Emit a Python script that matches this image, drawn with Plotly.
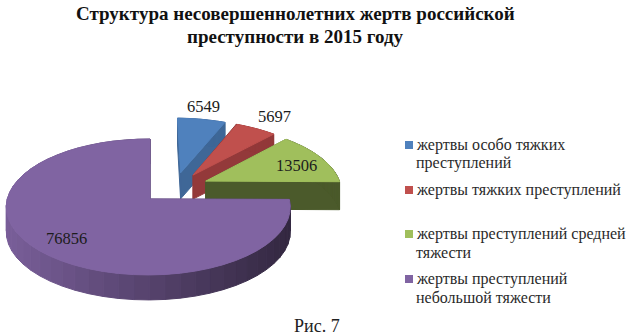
import math
import plotly.graph_objects as go

categories = ["жертвы особо тяжких<br>преступлений", "жертвы тяжких преступлений",
              "жертвы преступлений средней<br>тяжести", "жертвы преступлений<br>небольшой тяжести"]
values = [6549, 5697, 13506, 76856]
title_text = "Структура несовершеннолетних жертв российской<br>преступности в 2015 году"
caption = "Рис. 7"
top_colors = ["#4f81bd", "#c0504d", "#a0bf5c", "#8064a2"]
side_colors = ["#3f6797", "#93393a", "#4b5a2b", "#4a3a62"]
FONT = "Liberation Serif"

# projection of the pie plane on the page
CX, CY, R, K, P, Q = 150, 199, 141, 67, 0.1176, 0.012
# slice explosion in disc units: (right, toward viewer)
explode = [(0.228, -0.41), (0.32, -0.374), (0.41, -0.277), (0, 0)]
radii = [1.0, 1.0, 1.0, 1.0]
depths = [26, 24, 28, 25]
label_pos = [(203, 106), (274, 116), (296, 165), (66, 238)]
legend_y = [145, 190, 234, 279]
title_y = [13, 36]
LEG_X, LEG_TEXT_X, LEG_LINE = 409, 414, 18


def project(u, v, h=0):
    w = 1 - P * v + Q * u
    return CX + R * u / w, CY + K * v / w + h


def arc(a0, a1, r, ox, oy, h=0, n=48):
    pts = []
    for i in range(n + 1):
        a = math.radians(a0 + (a1 - a0) * i / n)
        pts.append(project(ox + r * math.sin(a), oy - r * math.cos(a), h))
    return pts


def poly(pts, color):
    xs = [p[0] for p in pts] + [pts[0][0]]
    ys = [p[1] for p in pts] + [pts[0][1]]
    return go.Scatter(x=xs, y=ys, mode="lines", fill="toself", fillcolor=color,
                      line=dict(color=color, width=1), hoverinfo="skip", showlegend=False)


def shade(base, t):
    base = base.lstrip("#")
    r, g, b = [int(base[i:i + 2], 16) for i in (0, 2, 4)]
    return "rgb(%d,%d,%d)" % (r * t, g * t, b * t)


fig = go.Figure()
total = sum(values)
start = 0
for i, val in enumerate(values):
    end = start + 360 * val / total
    ox, oy = explode[i]
    r = radii[i]
    h = depths[i]
    apex = project(ox, oy)
    apex_low = project(ox, oy, h)
    outer = arc(start, end, r, ox, oy)
    outer_low = arc(start, end, r, ox, oy, h)
    fig.add_trace(poly([apex, outer[0], outer_low[0], apex_low], side_colors[i]))
    fig.add_trace(poly([apex, outer[-1], outer_low[-1], apex_low], side_colors[i]))
    for j in range(len(outer) - 1):
        xm = (outer[j][0] + outer[j + 1][0]) / 2
        if i == 3:
            col = shade(top_colors[i], 0.95 - 0.55 * (xm - 6) / 284)
        else:
            col = side_colors[i]
        fig.add_trace(poly([outer[j], outer[j + 1], outer_low[j + 1], outer_low[j]], col))
    fig.add_trace(poly([apex] + outer, top_colors[i]))
    start = end

fig.add_trace(go.Scatter(x=[LEG_X] * len(legend_y), y=legend_y, mode="markers", showlegend=False,
                         hoverinfo="skip",
                         marker=dict(symbol="square", size=8, color=top_colors)))
for name, y in zip(categories, legend_y):
    for k, line in enumerate(name.split("<br>")):
        fig.add_annotation(x=LEG_TEXT_X, y=y + k * LEG_LINE, text=line, showarrow=False,
                           xanchor="left", xref="x", yref="y",
                           font=dict(family=FONT, size=16, color="#2a2a2a"))

for val, (x, y) in zip(values, label_pos):
    fig.add_annotation(x=x, y=y, text=str(val), showarrow=False, xref="x", yref="y",
                       font=dict(family=FONT, size=16.5, color="#1c1c1c"))

for line, y in zip(title_text.split("<br>"), title_y):
    fig.add_annotation(x=295, y=y, text="<b>" + line + "</b>", showarrow=False, xref="x", yref="y",
                       font=dict(family=FONT, size=19, color="#111111"))

fig.add_annotation(x=317, y=326, text=caption, showarrow=False, xref="x", yref="y",
                   font=dict(family=FONT, size=18, color="#222222"))

fig.update_layout(
    width=633, height=335, margin=dict(l=0, r=0, t=0, b=0),
    paper_bgcolor="white", plot_bgcolor="white", showlegend=False,
    xaxis=dict(range=[0, 633], visible=False, fixedrange=True),
    yaxis=dict(range=[335, 0], visible=False, fixedrange=True),
)
fig.write_html("out.html", config={"displayModeBar": False},
               post_script="document.body.style.margin='0';document.documentElement.style.overflow='hidden';")
